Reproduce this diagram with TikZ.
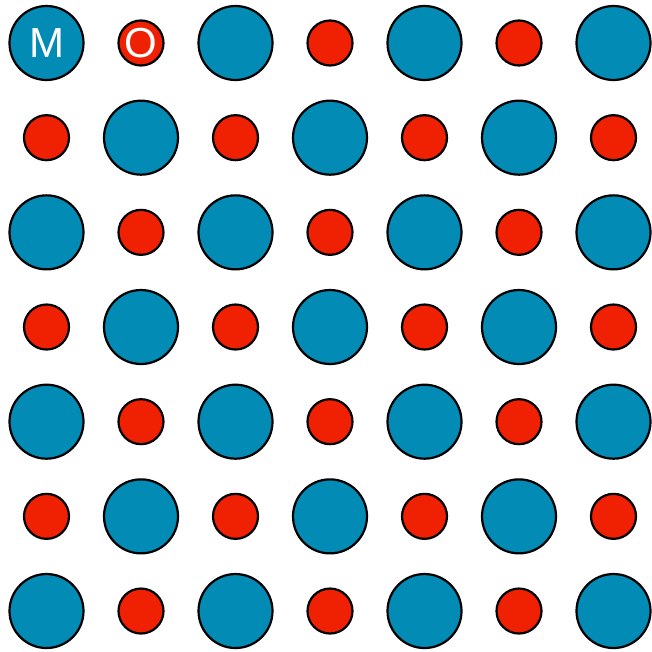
\documentclass[tikz,border=0pt]{standalone}
\usepackage{fontspec}
\setmainfont{Liberation Sans}
\definecolor{mblue}{RGB}{2,139,180}
\definecolor{ored}{RGB}{240,32,2}
\tikzset{
  metal/.style={circle,draw=black,line width=2.2pt,fill=mblue,minimum size=74pt,inner sep=0pt},
  oxy/.style={circle,draw=black,line width=2.2pt,fill=ored,minimum size=45pt,inner sep=0pt},
  lbl/.style={text=white,inner sep=0pt,font=\fontsize{42}{42}\selectfont}
}
\begin{document}
\begin{tikzpicture}[x=1pt,y=1pt]
\useasboundingbox (0,0) rectangle (652,-651);
\foreach \r in {0,...,6}{
  \foreach \c in {0,...,6}{
    \pgfmathtruncatemacro{\parity}{mod(\r+\c,2)}
    \pgfmathsetmacro{\xx}{46.5+94.5*\c}
    \pgfmathsetmacro{\yy}{-43-94.67*\r}
    \ifnum\parity=0
      \node[metal] (n\r\c) at (\xx,\yy) {};
    \else
      \node[oxy] (n\r\c) at (\xx,\yy) {};
    \fi
  }
}
\node[lbl] (lm) at (n00) {M};
\node[lbl] (lo) at (n01) {O};
\end{tikzpicture}
\end{document}
